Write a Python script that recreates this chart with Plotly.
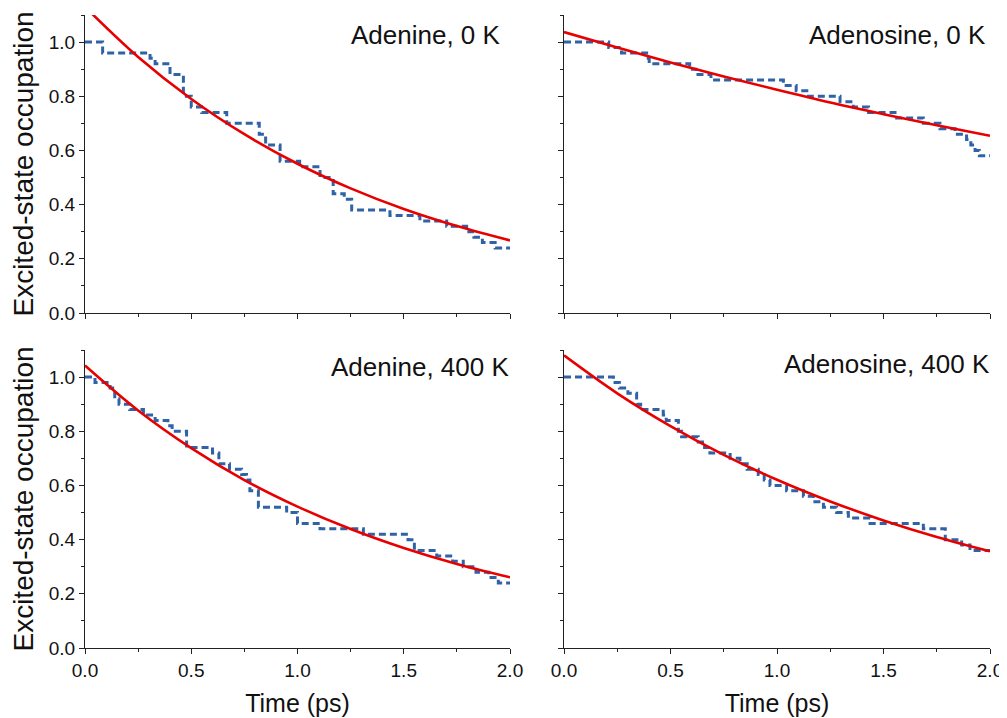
import plotly.graph_objects as go

# ---------------- data ----------------
panel_titles = ["Adenine, 0 K", "Adenosine, 0 K", "Adenine, 400 K", "Adenosine, 400 K"]

# step (simulated) excited-state occupation: time where each level starts, level value
adenine_0K_t = [0, 0.083, 0.306, 0.33, 0.40, 0.463, 0.50, 0.549, 0.667, 0.82, 0.85, 0.918,
                1.01, 1.106, 1.168, 1.22, 1.255, 1.435, 1.576, 1.702, 1.796, 1.83, 1.87, 1.93, 2.0]
adenine_0K_y = [1.0, 0.96, 0.94, 0.92, 0.88, 0.80, 0.76, 0.74, 0.70, 0.66, 0.62, 0.56,
                0.54, 0.50, 0.44, 0.42, 0.38, 0.36, 0.34, 0.32, 0.30, 0.28, 0.26, 0.24, 0.24]

adenosine_0K_t = [0, 0.21, 0.27, 0.388, 0.40, 0.59, 0.62, 0.69, 1.03, 1.09, 1.14, 1.296,
                  1.358, 1.43, 1.554, 1.687, 1.765, 1.836, 1.89, 1.91, 1.93, 1.95, 2.0]
adenosine_0K_y = [1.0, 0.98, 0.96, 0.94, 0.92, 0.90, 0.88, 0.86, 0.84, 0.82, 0.80, 0.78,
                  0.76, 0.74, 0.72, 0.70, 0.68, 0.66, 0.64, 0.62, 0.60, 0.58, 0.58]

adenine_400K_t = [0, 0.047, 0.118, 0.14, 0.16, 0.21, 0.275, 0.33, 0.39, 0.41, 0.478, 0.60,
                  0.63, 0.68, 0.737, 0.76, 0.776, 0.816, 0.949, 1.0, 1.106, 1.31, 1.52, 1.55,
                  1.655, 1.73, 1.78, 1.84, 1.90, 1.945, 2.0]
adenine_400K_y = [1.0, 0.98, 0.96, 0.92, 0.90, 0.88, 0.86, 0.84, 0.82, 0.80, 0.74, 0.72,
                  0.68, 0.66, 0.64, 0.62, 0.58, 0.52, 0.50, 0.46, 0.44, 0.42, 0.40, 0.36,
                  0.34, 0.32, 0.30, 0.28, 0.26, 0.24, 0.24]

adenosine_400K_t = [0, 0.232, 0.26, 0.30, 0.341, 0.36, 0.466, 0.48, 0.537, 0.552, 0.63, 0.66,
                    0.685, 0.78, 0.826, 0.86, 0.912, 0.94, 0.967, 1.045, 1.124, 1.17, 1.218,
                    1.28, 1.335, 1.437, 1.687, 1.79, 1.867, 1.906, 2.0]
adenosine_400K_y = [1.0, 0.98, 0.96, 0.94, 0.90, 0.88, 0.86, 0.84, 0.80, 0.78, 0.76, 0.74,
                    0.72, 0.70, 0.68, 0.66, 0.64, 0.62, 0.60, 0.58, 0.56, 0.54, 0.52,
                    0.50, 0.48, 0.46, 0.44, 0.40, 0.38, 0.36, 0.36]

# fitted decay curves
fit_t = [0, 0.25, 0.5, 0.75, 1.0, 1.25, 1.5, 1.75, 2.0]
adenine_0K_fit = [1.13, 0.945, 0.79, 0.66, 0.551, 0.46, 0.384, 0.321, 0.268]
adenosine_0K_fit = [1.037, 0.98, 0.925, 0.873, 0.824, 0.777, 0.734, 0.693, 0.654]
adenine_400K_fit = [1.043, 0.877, 0.738, 0.62, 0.522, 0.439, 0.369, 0.31, 0.261]
adenosine_400K_fit = [1.08, 0.94, 0.819, 0.713, 0.621, 0.541, 0.471, 0.41, 0.357]

x_tick_vals = [0.0, 0.5, 1.0, 1.5, 2.0]
x_tick_text = ["0.0", "0.5", "1.0", "1.5", "2.0"]
y_tick_vals = [0.0, 0.2, 0.4, 0.6, 0.8, 1.0]
y_tick_text = ["0.0", "0.2", "0.4", "0.6", "0.8", "1.0"]

# ---------------- figure ----------------
FONT = "'Liberation Sans', Arial, sans-serif"
BLUE = "#2f63a6"
RED = "#e80000"

steps = [(adenine_0K_t, adenine_0K_y), (adenosine_0K_t, adenosine_0K_y),
         (adenine_400K_t, adenine_400K_y), (adenosine_400K_t, adenosine_400K_y)]
fits = [adenine_0K_fit, adenosine_0K_fit, adenine_400K_fit, adenosine_400K_fit]

fig = go.Figure()
axis_ids = ["", "2", "3", "4"]
for i in range(4):
    xa = "x" + axis_ids[i]
    ya = "y" + axis_ids[i]
    t, y = steps[i]
    fig.add_trace(go.Scatter(x=t, y=y, mode="lines", line_shape="hv",
                             line=dict(color=BLUE, width=3, dash="7px,4px"),
                             xaxis=xa, yaxis=ya, showlegend=False))
    fig.add_trace(go.Scatter(x=fit_t, y=fits[i], mode="lines", line_shape="spline",
                             line=dict(color=RED, width=2.6),
                             xaxis=xa, yaxis=ya, showlegend=False))

# the page body adds an 8px offset at top-left, so the figure is sized to fit the window
OFF = 8
W, H = 1007 - OFF, 718 - OFF
ml, mr, mt, mb = 85 - OFF, 17, 15 - OFF, 70
pw = W - ml - mr
ph = H - mt - mb
x_dom_left = [0, (510 - 85) / pw]
x_dom_right = [(564 - 85) / pw, 1]
y_dom_top = [(648 - 313) / ph, 1]
y_dom_bot = [0, (648 - 350) / ph]

def xaxis(domain, anchor, show_labels, title):
    return dict(domain=domain, anchor=anchor, range=[0, 2], showline=True,
                linecolor="#222", linewidth=1.3, ticks="outside", ticklen=5,
                tickwidth=1.2, tickcolor="#222", tickvals=x_tick_vals,
                ticktext=x_tick_text, showticklabels=show_labels,
                minor=dict(dtick=0.25, tick0=0, ticks="outside", ticklen=3,
                           tickwidth=1.1, tickcolor="#222"),
                showgrid=False, zeroline=False, mirror=False, automargin=False,
                tickfont=dict(family=FONT, size=19, color="#111"),
                title=dict(text=title, font=dict(family=FONT, size=25, color="#111"),
                           standoff=14))

def yaxis(domain, anchor, show_labels, title):
    return dict(domain=domain, anchor=anchor, range=[0, 1.1], showline=True,
                linecolor="#222", linewidth=1.3, ticks="outside", ticklen=5,
                tickwidth=1.2, tickcolor="#222", tickvals=y_tick_vals,
                ticktext=y_tick_text, showticklabels=show_labels,
                minor=dict(dtick=0.1, tick0=0, ticks="outside", ticklen=3,
                           tickwidth=1.1, tickcolor="#222"),
                showgrid=False, zeroline=False, mirror=False, automargin=False,
                tickfont=dict(family=FONT, size=19, color="#111"),
                title=dict(text=title, font=dict(family=FONT, size=28, color="#111"),
                           standoff=6))

ytitle = "Excited-state occupation"
xtitle = "Time (ps)"
fig.update_layout(
    width=W, height=H, margin=dict(l=ml, r=mr, t=mt, b=mb),
    paper_bgcolor="white", plot_bgcolor="white",
    font=dict(family=FONT, color="#111"),
    xaxis=xaxis(x_dom_left, "y", False, ""),
    yaxis=yaxis(y_dom_top, "x", True, ytitle),
    xaxis2=xaxis(x_dom_right, "y2", False, ""),
    yaxis2=yaxis(y_dom_top, "x2", False, ""),
    xaxis3=xaxis(x_dom_left, "y3", True, xtitle),
    yaxis3=yaxis(y_dom_bot, "x3", True, ytitle),
    xaxis4=xaxis(x_dom_right, "y4", True, xtitle),
    yaxis4=yaxis(y_dom_bot, "x4", False, ""),
)

# panel labels: anchored at the right end of each x-axis, shifted in pixels
label_xshift = [-7, -2, 1, 2]
label_y = [1.027, 1.027, 1.039, 1.047]
for i in range(4):
    fig.add_annotation(x=2.0, y=label_y[i], xref="x" + axis_ids[i],
                       yref="y" + axis_ids[i], text=panel_titles[i], showarrow=False,
                       xanchor="right", yanchor="middle", xshift=label_xshift[i],
                       font=dict(family=FONT, size=26, color="#111"))

fig.write_html("out.html")
